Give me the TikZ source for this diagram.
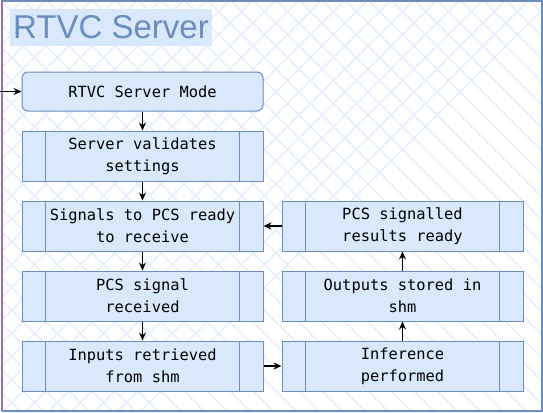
\documentclass[tikz,border=0pt]{standalone}
\usepackage{fontspec}
\usepackage{xcolor}
\usetikzlibrary{arrows.meta}
\newfontfamily\monofont{DejaVu Sans Mono}
\newfontfamily\titlefont{Liberation Sans}
\definecolor{boxfill}{HTML}{DAE8FC}
\definecolor{boxline}{HTML}{6C8EBF}
\definecolor{hatch}{HTML}{E6EFFC}
\definecolor{lanepurple}{HTML}{9673A6}

\begin{document}
\begin{tikzpicture}[x=1pt, y=-1pt,
    stage/.style={draw=boxline, fill=boxfill, line width=1pt, minimum width=241pt,
        minimum height=50pt, inner sep=0pt, align=center,
        font=\monofont\fontsize{15.4}{22}\selectfont},
    flow/.style={-{Stealth[length=8pt,width=7pt]}, line width=1.5pt}]
    \useasboundingbox (0,0) rectangle (543,412);

    % background of the lane
    \fill[white] (2,1) rectangle (541.5,410.5);
    \begin{scope}
        \clip (2,1) rectangle (541.5,410.5);
        \foreach \k in {-460,-437,...,560} {
            \draw[hatch, line width=1.5pt] (\k,0) -- ++(420,420);
            \draw[hatch, line width=1.5pt] (\k,0) -- ++(-420,420);
        }
    \end{scope}
    \draw[boxline, line width=2pt] (2,1) -- (541.5,1) -- (541.5,410.5) -- (2,410.5);
    \draw[lanepurple, line width=2pt] (2,0) -- (2,411);

    % title
    \node[fill=boxfill, text=boxline, minimum width=202pt, minimum height=37pt, inner sep=0pt,
        font=\titlefont\fontsize{33}{38}\selectfont] (title) at (111,27.5) {RTVC Server};

    % left column
    \node[stage, rounded corners=6pt, minimum height=39pt] (mode) at (142.5,91.5) {RTVC Server Mode};
    \node[stage] (validate) at (142.5,156) {Server validates\\settings};
    \node[stage] (ready) at (142.5,226) {Signals to PCS ready\\to receive};
    \node[stage] (received) at (142.5,296) {PCS signal\\received};
    \node[stage] (inputs) at (142.5,366) {Inputs retrieved\\from shm};

    % right column
    \node[stage] (results) at (402.5,226) {PCS signalled\\results ready};
    \node[stage] (outputs) at (402.5,296) {Outputs stored in\\shm};
    \node[stage] (inference) at (402.5,366) {Inference\\performed};

    % process bars
    \foreach \n in {validate,ready,received,inputs,results,outputs,inference} {
        \draw[boxline, line width=1pt] ([xshift=24pt]\n.north west) -- ([xshift=24pt]\n.south west);
        \draw[boxline, line width=1pt] ([xshift=-24pt]\n.north east) -- ([xshift=-24pt]\n.south east);
    }

    % connectors
    \coordinate (entry) at (0,91.5);
    \draw[flow] (entry) -- (mode.west);
    \draw[flow] (mode) -- (validate);
    \draw[flow] (validate) -- (ready);
    \draw[flow] (ready) -- (received);
    \draw[flow] (received) -- (inputs);
    \draw[flow] (inputs) -- (inference);
    \draw[flow] (inference) -- (outputs);
    \draw[flow] (outputs) -- (results);
    \draw[flow] (results) -- (ready);
\end{tikzpicture}
\end{document}
